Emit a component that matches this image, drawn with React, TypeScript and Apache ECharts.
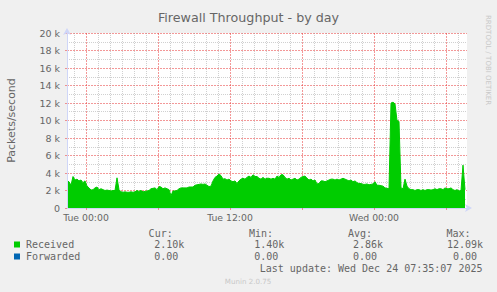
import React, { useEffect, useRef } from 'react';
import * as echarts from 'echarts';

// ---- data ----
const titleText = 'Firewall Throughput - by day';
const yAxisTitle = 'Packets/second';
// sample times: minutes relative to Tue 00:00, one sample every 10 minutes
const startMinute = -95; // Mon 22:25
const stepMinutes = 10;
const endMinute = 1905; // Wed 07:45
// Received packets/second, in thousands
const received: number[] = [
  3.1, 3.0, 2.6, 3.6, 3.2, 3.3, 3.1, 3.2, 2.9, 3.1,
  2.5, 2.3, 2.05, 2.1, 2.3, 2.4, 2.1, 2.2, 2.1, 2.0,
  2.05, 2.0, 1.95, 2.0, 2.0, 3.45, 2.1, 1.85, 1.8, 1.85,
  1.8, 1.8, 1.85, 1.8, 1.85, 2.0, 1.9, 2.0, 1.85, 1.9,
  1.95, 2.0, 2.2, 2.25, 2.3, 2.1, 2.45, 2.4, 2.2, 2.3,
  2.2, 2.1, 1.4, 1.95, 1.95, 2.0, 2.2, 2.3, 2.3, 2.3,
  2.3, 2.4, 2.4, 2.4, 2.6, 2.65, 2.7, 2.75, 2.7, 2.75,
  2.6, 2.45, 2.5, 3.1, 3.5, 3.65, 3.9, 3.7, 3.3, 3.35,
  3.2, 3.3, 3.1, 3.0, 3.1, 2.8, 3.1, 3.3, 3.4, 3.3,
  3.5, 3.65, 3.5, 3.8, 3.6, 3.6, 3.4, 3.3, 3.5, 3.3,
  3.4, 3.4, 3.3, 3.4, 3.3, 3.65, 3.5, 3.8, 3.8, 3.5,
  3.3, 3.4, 3.2, 3.3, 3.4, 3.2, 3.3, 3.5, 3.6, 3.65,
  3.4, 3.2, 3.3, 3.1, 3.2, 2.75, 2.8, 3.1, 3.1, 3.0,
  3.1, 3.2, 3.3, 3.3, 3.2, 3.3, 3.2, 3.3, 3.4, 3.3,
  3.2, 3.1, 3.2, 3.0, 3.1, 2.9, 2.8, 2.8, 2.7, 2.7,
  2.75, 2.65, 2.7, 2.75, 3.0, 2.6, 2.6, 2.55, 2.5, 2.3,
  2.25, 2.2, 12.0, 12.09, 11.9, 10.0, 9.9, 2.3, 2.2, 3.3,
  2.5, 2.2, 2.1, 2.1, 2.0, 2.1, 2.1, 2.0, 2.1, 2.0,
  2.1, 2.1, 2.05, 2.1, 2.2, 2.1, 2.2, 2.2, 2.1, 2.3,
  2.2, 2.2, 2.3, 2.1, 2.0, 2.1, 1.95, 2.0, 4.9, 2.1,
];
const forwardedValue = 0;
const yMin = 0;
const yMax = 20;
const yInterval = 2;
const xTickMinutes = [0, 720, 1440];
const xTickLabels = ['Tue 00:00', 'Tue 12:00', 'Wed 00:00'];
const gridHours = [-1, 0, 1, 2, 3, 4, 5, 6, 7, 8, 9, 10, 11, 12, 13, 14, 15, 16, 17, 18, 19, 20, 21, 22, 23, 24, 25, 26, 27, 28, 29, 30, 31];
const majorEveryHours = 6;
const seriesNames = ['Received', 'Forwarded'];
const seriesColors = ['#00CC00', '#0066B3'];
const statHeaders = ['Cur:', 'Min:', 'Avg:', 'Max:'];
const receivedStats = ['2.10k', '1.40k', '2.86k', '12.09k'];
const forwardedStats = ['0.00', '0.00', '0.00', '0.00'];
const lastUpdate = 'Last update: Wed Dec 24 07:35:07 2025';
const footer = 'Munin 2.0.75';
const sideText = 'RRDTOOL / TOBI OETIKER';

// ---- styles ----
const FONT = 'DejaVu Sans';
const MONO = 'DejaVu Sans Mono';
const TEXT = '#666666';
const AXIS = '#CFD6F8';
const MGRID = 'rgba(232,50,50,0.5)';
const GRID = 'rgba(150,150,150,0.45)';

export default function App() {
  const ref = useRef<HTMLDivElement>(null);
  useEffect(() => {
    if (!ref.current) return;
    const chart = echarts.init(ref.current, undefined, { renderer: 'svg' });
    const recData = received.map((v, i) => [startMinute + i * stepMinutes, v]);
    const fwdData = received.map((_, i) => [startMinute + i * stepMinutes, forwardedValue]);
    const sixHour = gridHours.filter((h) => h % majorEveryHours === 0).map((h) => h * 60);
    const minorHour = gridHours.filter((h) => h % majorEveryHours !== 0).map((h) => h * 60);

    const colX = [184.3, 284.3, 383, 483];
    const headerX = [172.7, 273, 372, 470.5];
    const graphics: any[] = [];
    const txt = (x: number, y: number, text: string, align: string, fill = TEXT, fontSize = 10, fontFamily = MONO, extra: any = {}) => ({
      type: 'text',
      x,
      y,
      ...extra,
      style: { text, fill, fontSize, fontFamily, align, textAlign: align, verticalAlign: 'middle', textVerticalAlign: 'middle' },
    });
    statHeaders.forEach((t, i) => graphics.push(txt(headerX[i], 233, t, 'right')));
    [receivedStats, forwardedStats].forEach((row, r) => {
      const y = r === 0 ? 244 : 256;
      graphics.push({ type: 'rect', shape: { x: 14, y: y - 2.5, width: 6, height: 6 }, style: { fill: seriesColors[r] } });
      graphics.push(txt(26, y, seriesNames[r], 'left'));
      row.forEach((t, i) => {
        const hasUnit = /[a-zA-Z]$/.test(t);
        graphics.push(txt(colX[i] - (hasUnit ? 0 : 6), y, t, 'right'));
      });
    });
    graphics.push(txt(482.5, 268.5, lastUpdate, 'right'));
    graphics.push(txt(248, 281, footer, 'center', '#C8C8C8', 7.1, FONT));
    graphics.push(txt(487.5, 15, sideText, 'left', '#C8C8C8', 7, FONT, { rotation: -Math.PI / 2 }));

    const gridXAxis = (values: number[], color: string, dash: number[]) => ({
      type: 'value',
      min: startMinute,
      max: endMinute,
      position: 'bottom',
      z: 0,
      axisLine: { show: false, onZero: false },
      axisTick: { show: false, customValues: values },
      axisLabel: { show: false, customValues: values },
      splitLine: { show: true, lineStyle: { color, type: dash, width: 1 } },
    });

    chart.setOption({
      animation: false,
      backgroundColor: '#F0F0F0',
      title: {
        text: titleText,
        left: 'center',
        top: 6,
        textStyle: { fontSize: 12.7, fontWeight: 'normal', color: TEXT, fontFamily: FONT },
      },
      grid: {
        left: 67,
        right: 30,
        top: 33,
        bottom: 84,
        show: true,
        backgroundColor: '#FFFFFF',
        borderWidth: 0,
        containLabel: false,
        outerBoundsMode: 'none',
      },
      xAxis: [
        {
          type: 'value',
          min: startMinute,
          max: endMinute,
          position: 'bottom',
          z: 10,
          axisLine: { show: true, onZero: false, lineStyle: { color: AXIS, width: 1 }, symbol: ['none', 'arrow'], symbolSize: [6, 7], symbolOffset: [0, 5] },
          axisTick: { show: true, customValues: sixHour, length: 2, lineStyle: { color: MGRID } },
          axisLabel: {
            customValues: xTickMinutes,
            formatter: (v: number) => {
              const k = xTickMinutes.indexOf(v);
              return k >= 0 ? xTickLabels[k] : '';
            },
            margin: 5,
            fontSize: 9.3,
            color: TEXT,
            fontFamily: FONT,
          },
          splitLine: { show: false },
        },
        gridXAxis(minorHour, GRID, [1, 1]),
        gridXAxis(sixHour, MGRID, [2, 1]),
      ],
      yAxis: [
        {
          type: 'value',
          min: yMin,
          max: yMax,
          interval: yInterval,
          position: 'left',
          z: 10,
          name: yAxisTitle,
          nameLocation: 'middle',
          nameGap: 50,
          nameMoveOverlap: false,
          nameTextStyle: { fontSize: 11, color: TEXT, fontFamily: FONT },
          axisLine: { show: true, onZero: false, lineStyle: { color: AXIS, width: 1 }, symbol: ['none', 'arrow'], symbolSize: [6, 7], symbolOffset: [0, 5] },
          axisTick: { show: true, length: 2, lineStyle: { color: MGRID } },
          axisLabel: { margin: 7, fontSize: 9.5, color: TEXT, fontFamily: FONT, formatter: (v: number) => (v === 0 ? '0' : v + ' k') },
          splitLine: { show: false },
        },
        {
          type: 'value',
          min: yMin,
          max: yMax,
          interval: yInterval,
          position: 'right',
          z: 0,
          axisLine: { show: false, onZero: false },
          axisTick: { show: false },
          axisLabel: { show: false },
          splitLine: { show: true, lineStyle: { color: MGRID, type: [2, 1], width: 1 } },
          minorTick: { show: false, splitNumber: 2 },
          minorSplitLine: { show: true, lineStyle: { color: GRID, type: [1, 1], width: 1 } },
        },
      ],
      graphic: graphics,
      series: [
        {
          name: seriesNames[1],
          type: 'line',
          data: fwdData,
          symbol: 'none',
          lineStyle: { color: seriesColors[1], width: 1 },
          z: 2,
        },
        {
          name: seriesNames[0],
          type: 'line',
          data: recData,
          symbol: 'none',
          lineStyle: { color: seriesColors[0], width: 1 },
          areaStyle: { color: seriesColors[0], opacity: 1 },
          z: 3,
        },
      ],
    });
    return () => chart.dispose();
  }, []);
  return <div ref={ref} style={{ position: 'fixed', left: 0, top: 0, width: 497, height: 292 }} />;
}
